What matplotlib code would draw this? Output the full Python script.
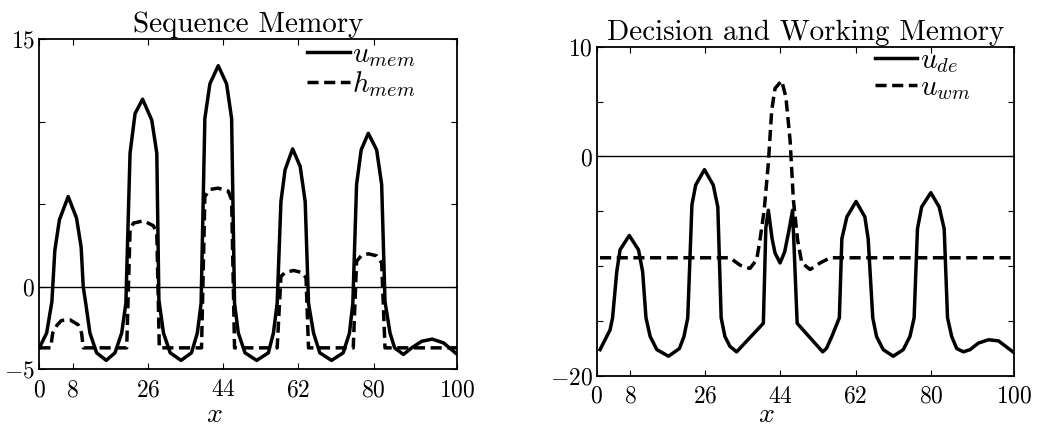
import matplotlib
matplotlib.use("Agg")
import matplotlib.pyplot as plt

plt.rcParams['mathtext.fontset'] = 'cm'
plt.rcParams['font.family'] = ['cmr10', 'DejaVu Serif']
plt.rcParams['axes.unicode_minus'] = False

# Sequence memory field
x_umem = [0, 1.75, 3, 3.7, 4.8, 6.9, 8.9, 10, 10.5, 11.1, 12.1, 13.7, 16, 18.1, 19.7, 20.7,
          21.7, 22.9, 24.7, 26.9, 28.1, 28.6, 29.7, 31.3, 33.9, 36.4, 37.8, 38.7,
          39.6, 40.8, 42.8, 44.8, 46, 46.7, 47.6, 49.2, 52, 54.8, 56, 56.9,
          57.8, 58.8, 60.6, 62.4, 63.6, 64.4, 65.6, 67.1, 69.9, 72.7, 74.2, 75,
          75.9, 77, 78.7, 80.7, 81.9, 82.7, 83.9, 85, 87.1, 89.1, 91.5, 94, 96.7, 100]
u_mem = [-3.7, -2.8, -0.9, 2.2, 4.06, 5.47, 4.16, 2.4, 0, -1.0, -2.8, -4.0, -4.46, -4.0, -2.8, -1.0,
         8.1, 10.5, 11.37, 10.1, 8.1, -0.8, -2.8, -4.0, -4.46, -4.0, -2.8, -1.0,
         10.2, 12.3, 13.4, 12.3, 10.2, -1.0, -2.8, -4.0, -4.46, -4.0, -2.8, -1.0,
         5.17, 7.1, 8.36, 7.3, 5.17, -1.0, -2.8, -4.0, -4.46, -4.0, -2.8, -1.0,
         6.2, 8.3, 9.3, 8.3, 6.2, -0.9, -2.8, -3.7, -4.1, -3.7, -3.3, -3.17, -3.4, -4.1]

x_hmem = [0, 2.7, 3.2, 4.3, 5.3, 7.3, 9.3, 10.1, 10.5, 20.9, 21.7, 22.5, 24.9, 27.3, 28.1, 28.7,
          38.8, 39.6, 40.8, 42.8, 45.2, 46, 46.7, 56.9, 57.8, 58.8, 60.8, 62.8, 63.8, 64.4,
          75.1, 75.9, 77, 78.7, 80.7, 81.9, 82.7, 100]
h_mem = [-3.7, -3.7, -2.8, -2.3, -2.04, -2.0, -2.3, -2.8, -3.7, -3.7, 3.45, 3.86, 4.0, 3.7, 3.25, -3.7,
         -3.7, 5.47, 5.9, 5.98, 5.8, 5.27, -3.7, -3.7, 0.63, 0.87, 0.99, 0.87, 0.55, -3.7,
         -3.7, 1.54, 1.88, 2.0, 1.88, 1.45, -3.7, -3.7]

# Decision and working memory fields
x_ude = [0.8, 2, 3.2, 3.8, 4.8, 5.6, 7.8, 10, 11, 11.8, 12.8, 14.4, 17.2, 19.8, 20.9, 21.8,
         22.8, 23.7, 25.8, 27.9, 29, 29.8, 30.7, 31.9, 33.5, 39.9, 40.5, 41.1, 42, 42.7, 43.9,
         45, 46, 46.9, 48, 54.1, 55, 56.3, 58.1, 58.7, 59.9, 62.1, 64.2, 65, 66.1, 67,
         68.6, 71, 73.4, 75, 76, 76.8, 77.8, 80, 82, 83.2, 84, 85, 86.2, 87.8, 89.4,
         91.4, 93.8, 96.2, 100]
u_de = [-17.6, -16.7, -15.8, -14.7, -10.5, -8.5, -7.2, -8.5, -10.5, -14.7, -16.4, -17.6, -18.2, -17.5, -16.4, -14.7,
        -4.4, -2.6, -1.2, -2.6, -4.6, -14.7, -16.4, -17.3, -17.8, -15.2, -6.5, -4.9, -7.5, -8.8, -9.7,
        -8.7, -6.8, -4.9, -15.2, -17.8, -17.5, -16.4, -14.7, -7.5, -5.5, -4.1, -5.5, -7.5, -14.7, -16.4,
        -17.6, -18.2, -17.6, -16.4, -14.7, -6.6, -4.6, -3.3, -4.6, -6.6, -14.7, -16.4, -17.5, -17.8, -17.6,
        -17.0, -16.7, -16.8, -17.9]

x_uwm = [0.8, 31.9, 34.3, 36.7, 38.3, 39.1, 40.1, 41.1, 41.9, 42.7, 44.3, 45.3, 46.3, 47.1,
         48.1, 49.1, 51.1, 53.5, 55.9, 100]
u_wm = [-9.23, -9.23, -9.9, -10.2, -9.4, -7.6, -4.9, -0.6, 4.2, 6.2, 6.9, 5.4, 1.5, -4.0,
        -7.6, -9.7, -10.3, -9.7, -9.23, -9.23]

xticks = [0, 8, 26, 44, 62, 80, 100]
yticks_left = [-5, 0, 5, 10, 15]
ylabels_left = ['$-5$', '$0$', '', '', '$15$']
yticks_right = [-20, -15, -10, -5, 0, 5, 10]
ylabels_right = ['$-20$', '', '', '', '$0$', '', '$10$']

fig = plt.figure(figsize=(10.41, 4.26), dpi=100)
ax1 = fig.add_axes([0.0378, 0.1331, 0.4015, 0.7746])
ax2 = fig.add_axes([0.5732, 0.1174, 0.4012, 0.7730])


def style(ax, title, yt, yl, ylim, xlab_x, xlab_y):
    ax.axhline(0, color='k', lw=1)
    ax.set_xlim(0, 100)
    ax.set_ylim(*ylim)
    ax.set_xticks(xticks)
    ax.set_xticklabels(['$%d$' % v for v in xticks], fontsize=17)
    ax.set_yticks(yt)
    ax.set_yticklabels(yl, fontsize=17)
    ax.tick_params(axis='x', pad=7)
    ax.tick_params(direction='in', top=True, right=True, length=4, width=0.8)
    ax.tick_params(axis='y', pad=3)
    for s in ax.spines.values():
        s.set_linewidth(1.3)
    ax.set_title(title, fontsize=21, pad=5)
    ax.set_xlabel('$x$', fontsize=20)
    ax.xaxis.set_label_coords(xlab_x, xlab_y)


ax1.plot(x_umem, u_mem, 'k-', lw=2.5, label='$u_{mem}$')
ax1.plot(x_hmem, h_mem, 'k--', lw=2.5, dashes=(3.2, 1.6), label='$h_{mem}$')
style(ax1, 'Sequence Memory', yticks_left, ylabels_left, (-5, 15), 0.418, -0.097)
ax1.legend(loc='upper right', bbox_to_anchor=(0.95, 1.055), frameon=False, fontsize=21,
           handlelength=1.45, handletextpad=0.1, labelspacing=0.0, borderpad=0.2)

ax2.plot(x_ude, u_de, 'k-', lw=2.5, label='$u_{de}$')
ax2.plot(x_uwm, u_wm, 'k--', lw=2.5, dashes=(3.2, 1.6), label='$u_{wm}$')
style(ax2, 'Decision and Working Memory', yticks_right, ylabels_right, (-20, 10), 0.405, -0.078)
ax2.legend(loc='upper right', bbox_to_anchor=(0.945, 1.06), frameon=False, fontsize=21,
           handlelength=1.45, handletextpad=0.1, labelspacing=0.0, borderpad=0.2)

fig.savefig('out.png', dpi=100)
